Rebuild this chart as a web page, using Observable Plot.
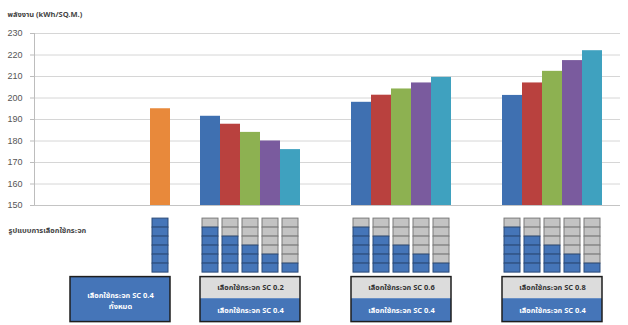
<!DOCTYPE html>
<html>
<head>
<meta charset="utf-8">
<script src="https://cdn.jsdelivr.net/npm/d3@7"></script>
<script src="https://cdn.jsdelivr.net/npm/@observablehq/plot@0.6"></script>
<style>
  body { margin: 0; background: #fff; }
  #chart svg { display: block; }
</style>
</head>
<body>
<div id="chart"></div>
<script>
// Energy use per square metre for each glazing arrangement
const yTicks = [150, 160, 170, 180, 190, 200, 210, 220, 230];
const baselineEnergy = [195];                       // SC 0.4 glass on every panel
const energySC02 = [191.5, 187.8, 184.0, 180.0, 176.0];
const energySC06 = [198.0, 201.3, 204.2, 207.0, 209.6];
const energySC08 = [201.2, 207.0, 212.4, 217.4, 222.0];
// number of the six panels (counted from the top) switched to the other glass
const panelsSwitched = [1, 2, 3, 4, 5];
const panelCount = 6;

const axisTitle = "พลังงาน (kWh/SQ.M.)";
const patternTitle = "รูปแบบการเลือกใช้กระจก";
const baseGlassLabel = "เลือกใช้กระจก SC 0.4";
const baselineLabel = "เลือกใช้กระจก SC 0.4\nทั้งหมด";
const groupNames = ["SC 0.2", "SC 0.6", "SC 0.8"];
const groupLabels = ["เลือกใช้กระจก SC 0.2", "เลือกใช้กระจก SC 0.6", "เลือกใช้กระจก SC 0.8"];
const groupValues = [energySC02, energySC06, energySC08];

const seriesColors = ["#3f70b1", "#b9413e", "#8db151", "#7a5b9e", "#3fa1bf"];
const baselineColor = "#e8893b";
const panelBlue = "#4575b8";
const panelGray = "#c3c3c3";

const thai = "'Noto Sans Thai', 'Noto Sans Thai UI', Tahoma, 'Liberation Sans', sans-serif";

// horizontal layout, in bar widths
const xMax = 29.3;
const baselineStart = 5.8;
const firstGroupStart = 8.3;
const groupStep = 7.55;
const boxWidth = 5;

const bars = [{x1: baselineStart, x2: baselineStart + 1, value: baselineEnergy[0], color: baselineColor, switched: 0}];
groupValues.forEach((vals, g) => {
  vals.forEach((v, i) => {
    const x1 = firstGroupStart + g * groupStep + i;
    bars.push({x1, x2: x1 + 1, value: v, color: seriesColors[i], switched: panelsSwitched[i], group: groupNames[g]});
  });
});

const xScale = {type: "linear", domain: [0, xMax]};
const W = 628, ML = 34, MR = 8;

const barChart = Plot.plot({
  width: W, height: 210,
  marginLeft: ML, marginRight: MR, marginTop: 33, marginBottom: 5,
  style: {fontFamily: "'Liberation Sans', Arial, sans-serif", background: "#fff"},
  x: {...xScale, axis: null},
  y: {domain: [yTicks[0], yTicks[yTicks.length - 1]], axis: null},
  marks: [
    Plot.ruleY(yTicks, {x1: 0, x2: xMax, stroke: "#d6d6d6", strokeWidth: 1}),
    Plot.ruleY(yTicks, {x1: 0, x2: -0.2, stroke: "#bdbdbd"}),
    Plot.ruleX([0], {y1: yTicks[0], y2: yTicks[yTicks.length - 1], stroke: "#bdbdbd"}),
    Plot.text(yTicks, {x: 0, y: d => d, text: d => String(d), textAnchor: "end", dx: -12, fontSize: 9, fill: "#555"}),
    Plot.rectY(bars, {x1: "x1", x2: "x2", y1: yTicks[0], y2: "value", fill: "color"}),
    Plot.ruleY([yTicks[0]], {x1: 0, x2: xMax, stroke: "#c4c4c4"}),
    Plot.text([axisTitle], {frameAnchor: "top-left", dx: -27, dy: -22, textAnchor: "start", fontSize: 7.5, fontWeight: "bold", fill: "#444", fontFamily: thai})
  ]
});

// panel pictograms and glazing legend boxes
const cells = [];
bars.forEach(b => {
  for (let k = 0; k < panelCount; k++) {
    cells.push({x1: b.x1 + 0.1, x2: b.x2 - 0.1, r1: 0.9 + k, r2: 1.9 + k, gray: k < b.switched});
  }
});

const boxTop = 7.4, boxSplit = 9.8, boxBottom = 12.4;
const groupBoxes = groupLabels.map((label, g) => {
  const x1 = firstGroupStart + g * groupStep;
  return {x1, x2: x1 + boxWidth, label};
});
const baseBox = {x1: baselineStart + 1 - boxWidth, x2: baselineStart + 1, label: baselineLabel};

const legendPart = Plot.plot({
  width: W, height: 115,
  marginLeft: ML, marginRight: MR, marginTop: 0, marginBottom: 0,
  style: {background: "#fff"},
  x: {...xScale, axis: null},
  y: {domain: [0, 115 / 9], reverse: true, axis: null},
  marks: [
    Plot.rect(cells, {x1: "x1", x2: "x2", y1: "r1", y2: "r2",
      fill: d => d.gray ? panelGray : panelBlue,
      stroke: d => d.gray ? "#7a7a7a" : "#2b4a78", strokeWidth: 1}),
    Plot.text([patternTitle], {frameAnchor: "top-left", dx: -26, dy: 17, textAnchor: "start", fontSize: 7.5, fontWeight: "bold", fill: "#444", fontFamily: thai}),
    // single-glass box
    Plot.rect([baseBox], {x1: "x1", x2: "x2", y1: boxTop, y2: boxBottom, fill: panelBlue, stroke: "#1e1e1e", strokeWidth: 1.5}),
    Plot.text([baseBox], {x: d => (d.x1 + d.x2) / 2, y: (boxTop + boxBottom) / 2, text: "label", fill: "white", fontSize: 7.5, fontWeight: "bold", lineHeight: 1.5, fontFamily: thai}),
    // two-glass boxes
    Plot.rect(groupBoxes, {x1: "x1", x2: "x2", y1: boxTop, y2: boxSplit, fill: "#dcdcdc"}),
    Plot.rect(groupBoxes, {x1: "x1", x2: "x2", y1: boxSplit, y2: boxBottom, fill: panelBlue}),
    Plot.rect(groupBoxes, {x1: "x1", x2: "x2", y1: boxTop, y2: boxBottom, fill: "none", stroke: "#1e1e1e", strokeWidth: 1.5}),
    Plot.text(groupBoxes, {x: d => (d.x1 + d.x2) / 2, y: (boxTop + boxSplit) / 2, text: "label", fill: "#333", fontSize: 7.5, fontWeight: "bold", fontFamily: thai}),
    Plot.text(groupBoxes, {x: d => (d.x1 + d.x2) / 2, y: (boxSplit + boxBottom) / 2, text: () => baseGlassLabel, fill: "white", fontSize: 7.5, fontWeight: "bold", fontFamily: thai})
  ]
});

const chart = document.getElementById("chart");
chart.appendChild(barChart);
chart.appendChild(legendPart);
</script>
</body>
</html>
